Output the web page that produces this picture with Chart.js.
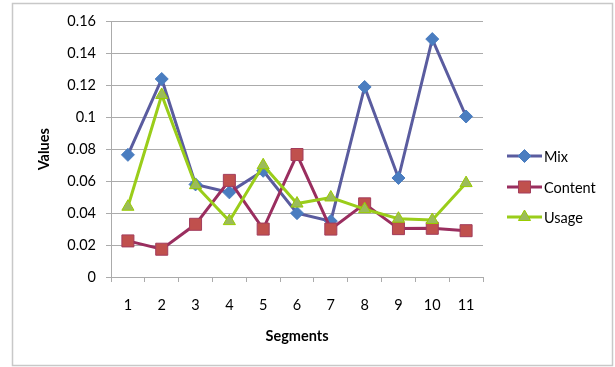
<!DOCTYPE html>
<html>
<head>
<meta charset="utf-8">
<script src="https://cdn.jsdelivr.net/npm/chart.js@4/dist/chart.umd.min.js"></script>
<style>
  html, body { margin: 0; padding: 0; background: #ffffff; }
  #wrap { width: 615px; height: 367px; position: relative; }
</style>
</head>
<body>
<div id="wrap"><canvas id="chart" width="615" height="367"></canvas></div>
<script>
// Segment categories and the three series
const segments = ['1', '2', '3', '4', '5', '6', '7', '8', '9', '10', '11'];
const mixValues = [0.0765, 0.124, 0.058, 0.053, 0.0665, 0.040, 0.035, 0.119, 0.062, 0.149, 0.1005];
const contentValues = [0.0226, 0.0174, 0.033, 0.0605, 0.030, 0.0767, 0.030, 0.0458, 0.0303, 0.0305, 0.029];
const usageValues = [0.044, 0.114, 0.0575, 0.035, 0.070, 0.046, 0.0498, 0.0425, 0.0365, 0.0357, 0.0588];
const yTickLabels = ['0', '0.02', '0.04', '0.06', '0.08', '0.1', '0.12', '0.14', '0.16'];

const FONT = 'Lato, "Open Sans", sans-serif';
const GRID = '#ababab';

const seriesStyle = [
  { label: 'Mix', data: mixValues, line: '#5a5c9f', fill: '#4a7dc0', border: '#4a7dc0', style: 'rectRot', radius: 6.5 },
  { label: 'Content', data: contentValues, line: '#9a2e5f', fill: '#c0504d', border: '#a33c5c', style: 'rect', radius: 8.5 },
  { label: 'Usage', data: usageValues, line: '#9acd1a', fill: '#9bbb59', border: '#99cc00', style: 'triangle', radius: 7 }
];

// Frame around the whole chart
const framePlugin = {
  id: 'frame',
  beforeDraw(chart) {
    const ctx = chart.ctx;
    ctx.save();
    ctx.fillStyle = '#ffffff';
    ctx.fillRect(0, 0, chart.width, chart.height);
    ctx.strokeStyle = '#c8c8c8';
    ctx.lineWidth = 1.5;
    ctx.strokeRect(12.5, 3.5, 600, 362);
    ctx.restore();
  }
};

// Legend with a line sample and the series marker
const lineLegend = {
  id: 'lineLegend',
  afterDraw(chart) {
    const ctx = chart.ctx;
    const x0 = 507, x1 = 542, ys = [156, 187, 217];
    ctx.save();
    chart.data.datasets.forEach((ds, i) => {
      const y = ys[i];
      ctx.strokeStyle = ds.borderColor;
      ctx.lineWidth = 3;
      ctx.beginPath();
      ctx.moveTo(x0, y);
      ctx.lineTo(x1, y);
      ctx.stroke();
      ctx.fillStyle = ds.pointBackgroundColor;
      ctx.strokeStyle = ds.pointBorderColor;
      ctx.lineWidth = 1;
      Chart.helpers.drawPoint(ctx, { pointStyle: ds.pointStyle, radius: ds.pointRadius, rotation: 0, borderWidth: 1 }, (x0 + x1) / 2, y);
      ctx.fillStyle = '#000000';
      ctx.font = '14.5px ' + FONT;
      ctx.textBaseline = 'middle';
      ctx.textAlign = 'left';
      ctx.fillText(ds.label, 544, y + 1);
    });
    ctx.restore();
  }
};

new Chart(document.getElementById('chart'), {
  type: 'line',
  data: {
    labels: segments,
    datasets: seriesStyle.map((s, i) => ({
      label: s.label,
      data: s.data,
      borderColor: s.line,
      borderWidth: 3,
      backgroundColor: s.fill,
      pointStyle: s.style,
      pointRadius: s.radius,
      pointHoverRadius: s.radius,
      pointBackgroundColor: s.fill,
      pointBorderColor: s.border,
      pointBorderWidth: 1,
      tension: 0,
      fill: false,
      order: 3 - i
    }))
  },
  options: {
    responsive: false,
    animation: false,
    devicePixelRatio: 1,
    layout: { padding: { left: 0, top: 21.5, right: 132, bottom: 0 } },
    plugins: { legend: { display: false }, tooltip: { enabled: false } },
    scales: {
      x: {
        type: 'category',
        offset: true,
        grid: { offset: true, drawOnChartArea: false, drawTicks: true, tickLength: 5, color: GRID },
        border: { display: true, color: GRID, width: 1 },
        ticks: { color: '#000000', font: { family: FONT, size: 14.5 }, padding: 15, maxRotation: 0 },
        title: { display: true, text: 'Segments', color: '#000000', font: { family: FONT, size: 14.5, weight: 'bold' }, padding: { top: 0, bottom: 22 } },
        afterFit(scale) { scale.height = 90; }
      },
      y: {
        min: 0,
        max: 0.16,
        ticks: {
          stepSize: 0.02,
          color: '#000000',
          font: { family: FONT, size: 14.5 },
          padding: 10,
          callback: (v, i) => yTickLabels[i]
        },
        grid: { color: GRID, tickLength: 5, drawTicks: true },
        border: { display: true, color: GRID, width: 1 },
        title: { display: true, text: 'Values', color: '#000000', font: { family: FONT, size: 14.5, weight: 'bold' }, padding: { top: 36, bottom: 0 } },
        afterFit(scale) { scale.width = 111; }
      }
    }
  },
  plugins: [framePlugin, lineLegend]
});
</script>
</body>
</html>
